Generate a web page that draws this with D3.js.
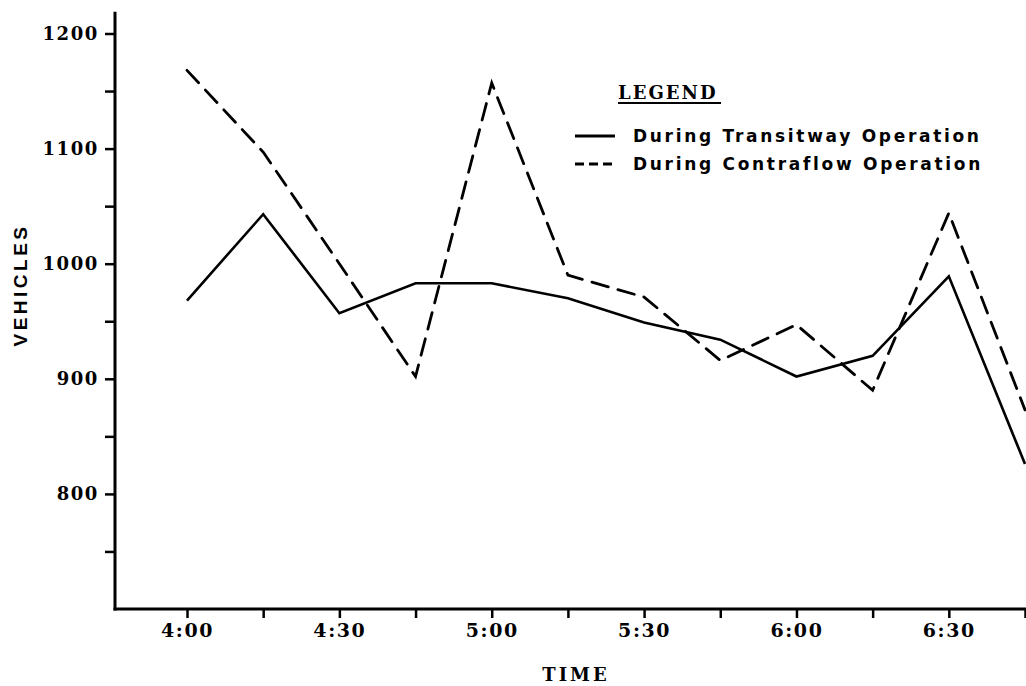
<!DOCTYPE html>
<html>
<head>
<meta charset="utf-8">
<script src="https://cdn.jsdelivr.net/npm/d3@7"></script>
<style>
  html, body { margin: 0; padding: 0; background: #fff; }
  svg { display: block; }
</style>
</head>
<body>
<svg id="chart" width="1026" height="686"></svg>
<script>
// Sample times, minutes after 4:00 PM, in 15-minute steps
const minutes = [0, 15, 30, 45, 60, 75, 90, 105, 120, 135, 150, 165];
const timeLabels = ["4:00", "4:15", "4:30", "4:45", "5:00", "5:15", "5:30", "5:45", "6:00", "6:15", "6:30", "6:45"];

// Vehicle counts per interval
const transitway = [968, 1043, 957, 983, 983, 970, 949, 934, 902, 920, 989, 826];
const contraflow = [1168, 1097, 1000, 902, 1157, 990, 971, 916, 947, 890, 1044, 873];

// Axis ticks
const yTickValues = [750, 800, 850, 900, 950, 1000, 1050, 1100, 1150, 1200];
const yLabelled = [800, 900, 1000, 1100, 1200];
const xLabelled = ["4:00", "4:30", "5:00", "5:30", "6:00", "6:30"];

const legendTitle = "LEGEND";
const seriesNames = ["During Transitway Operation", "During Contraflow Operation"];

const svg = d3.select("#chart");
const W = 1026, H = 686;

const originX = 115;
const x = d3.scaleLinear().domain([0, 165]).range([187, 1025]);
const y = d3.scaleLinear().domain([700, 1200]).range([609, 33.5]);

const ink = "#000";
const serif = "'DejaVu Serif', serif";

// Y axis ticks and labels
const yAxis = d3.axisLeft(y)
  .tickValues(yTickValues)
  .tickSize(10)
  .tickPadding(6)
  .tickFormat(d => yLabelled.includes(d) ? String(d) : "");
const gy = svg.append("g").attr("transform", `translate(${originX},0)`).call(yAxis);
gy.select(".domain").remove();
gy.selectAll(".tick line").attr("stroke", ink).attr("stroke-width", 2.5);
gy.selectAll(".tick text")
  .attr("fill", ink)
  .style("font-family", serif)
  .style("font-weight", "bold")
  .style("font-size", "18px")
  .style("letter-spacing", "1.6px");

// X axis ticks and labels
const xAxis = d3.axisBottom(x)
  .tickValues(minutes)
  .tickSize(9)
  .tickPadding(6)
  .tickFormat((d, i) => xLabelled.includes(timeLabels[i]) ? timeLabels[i] : "");
const gx = svg.append("g").attr("transform", `translate(0,${y(700)})`).call(xAxis);
gx.select(".domain").remove();
gx.selectAll(".tick line").attr("stroke", ink).attr("stroke-width", 2.5);
gx.selectAll(".tick text")
  .attr("fill", ink)
  .style("font-family", serif)
  .style("font-weight", "bold")
  .style("font-size", "19px")
  .style("letter-spacing", "1.6px");

// Axis lines
svg.append("line")
  .attr("x1", originX).attr("x2", originX)
  .attr("y1", y(700) + 1.5).attr("y2", y(1219))
  .attr("stroke", ink).attr("stroke-width", 3);
svg.append("line")
  .attr("x1", originX - 1.5).attr("x2", W)
  .attr("y1", y(700)).attr("y2", y(700))
  .attr("stroke", ink).attr("stroke-width", 3);

// Series lines
const line = d3.line().x((d, i) => x(minutes[i])).y(d => y(d));
svg.append("path")
  .datum(transitway)
  .attr("d", line)
  .attr("fill", "none")
  .attr("stroke", ink)
  .attr("stroke-width", 2.6)
  .attr("stroke-linejoin", "miter");
svg.append("path")
  .datum(contraflow)
  .attr("d", line)
  .attr("fill", "none")
  .attr("stroke", ink)
  .attr("stroke-width", 2.8)
  .attr("stroke-dasharray", "17,10")
  .attr("stroke-linecap", "round");

// Axis titles
svg.append("text")
  .attr("transform", `translate(27,285) rotate(-90)`)
  .attr("text-anchor", "middle")
  .attr("fill", ink)
  .style("font-family", "'Liberation Sans', Arial, sans-serif")
  .style("font-weight", "bold")
  .style("font-size", "19px")
  .style("letter-spacing", "3.5px")
  .text("VEHICLES");

svg.append("text")
  .attr("x", 576).attr("y", 681)
  .attr("text-anchor", "middle")
  .attr("fill", ink)
  .style("font-family", serif)
  .style("font-weight", "bold")
  .style("font-size", "18px")
  .style("letter-spacing", "3px")
  .text("TIME");

// Legend
const legend = svg.append("g");
legend.append("text")
  .attr("x", 618).attr("y", 99)
  .attr("fill", ink)
  .style("font-family", serif)
  .style("font-weight", "bold")
  .style("font-size", "18px")
  .style("letter-spacing", "2px")
  .text(legendTitle);
legend.append("line")
  .attr("x1", 618).attr("x2", 721)
  .attr("y1", 103).attr("y2", 103)
  .attr("stroke", ink).attr("stroke-width", 2);

const legendRows = [
  { name: seriesNames[0], y: 136, dash: null },
  { name: seriesNames[1], y: 164, dash: "9,5" }
];
legendRows.forEach(r => {
  legend.append("line")
    .attr("x1", 575).attr("x2", 615)
    .attr("y1", r.y).attr("y2", r.y)
    .attr("stroke", ink).attr("stroke-width", 2.8)
    .attr("stroke-dasharray", r.dash);
  legend.append("text")
    .attr("x", 633).attr("y", r.y + 6)
    .attr("fill", ink)
    .style("font-family", "'DejaVu Sans', sans-serif")
    .style("font-weight", "bold")
    .style("font-size", "17px")
    .style("letter-spacing", "2.7px")
    .text(r.name);
});
</script>
</body>
</html>
